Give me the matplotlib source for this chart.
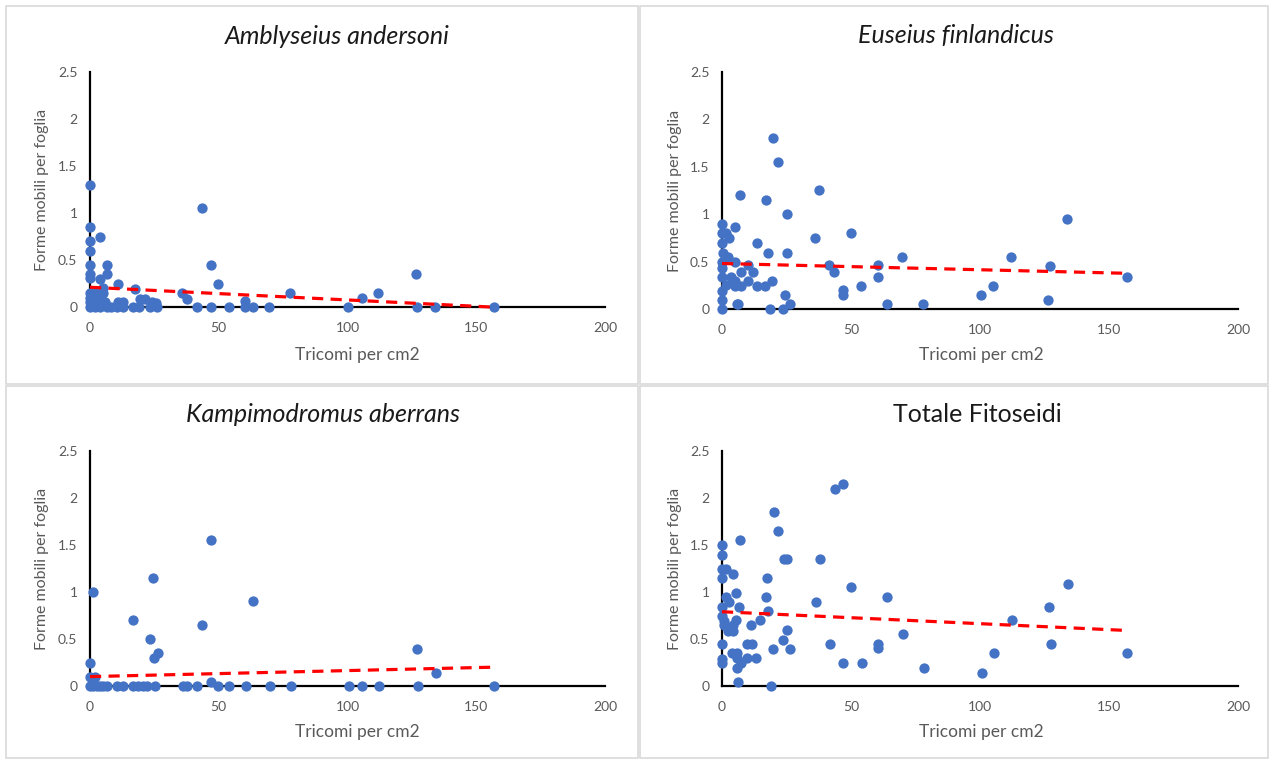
import matplotlib
matplotlib.use("Agg")
import matplotlib.pyplot as plt
from matplotlib.patches import Rectangle
import numpy as np

plt.rcParams['font.family'] = ['Lato', 'DejaVu Sans']

# ---------------- data ----------------
titles = ["Amblyseius andersoni", "Euseius finlandicus",
          "Kampimodromus aberrans", "Totale Fitoseidi"]
title_italic = [True, True, True, False]
xlabel = "Tricomi per cm2"
ylabel = "Forme mobili per foglia"
xticks = [0, 50, 100, 150, 200]
yticks = [0, 0.5, 1, 1.5, 2, 2.5]
ytick_labels = ["0", "0.5", "1", "1.5", "2", "2.5"]

andersoni_x = [0, 0, 0, 0, 0, 0, 0, 0, 0, 0,
               3.9, 6.5, 6.5, 3.9, 43.4, 47, 49.8, 10.7, 17.5, 35.6, 37.5, 77.7, 105.5, 112, 126.6,
               2, 5, 2, 4, 6, 11, 13, 19.4, 21.3, 24, 25.5, 60.2, 5, 1, 3,
               0, 2, 4, 6.5, 8, 10.4, 13, 16.8, 19.1, 23.3, 25.9, 41.4, 47, 54, 60.2, 63.4,
               69.5, 100.3, 127, 134, 157]
andersoni_y = [1.30, 0.85, 0.70, 0.60, 0.45, 0.35, 0.31, 0.15, 0.10, 0.05,
               0.75, 0.45, 0.35, 0.30, 1.05, 0.45, 0.25, 0.25, 0.19, 0.15, 0.09, 0.15, 0.10, 0.15, 0.35,
               0.15, 0.15, 0.10, 0.10, 0.05, 0.05, 0.05, 0.09, 0.09, 0.05, 0.04, 0.06, 0.20, 0.05, 0.12,
               0, 0, 0, 0, 0, 0, 0, 0, 0, 0, 0, 0, 0, 0, 0, 0,
               0, 0, 0, 0, 0]
andersoni_trend = [0.21, -0.00135]   # intercept, slope

finlandicus_x = [19.9, 21.6, 37.6, 7.0, 17.1, 25.1, 0, 5.2, 0, 1.5, 2.8, 0, 13.4, 36.2, 50,
                 69.6, 17.7, 25.2, 0.5, 2.4, 0, 5, 10.2, 41.6, 43.5, 60.3, 60.3, 7.3, 12.1,
                 0, 0, 3.4, 5, 10.2, 19.2, 1.4, 5, 7.2, 13.4, 16.6, 53.9, 0, 0, 46.8, 47,
                 24.4, 5.7, 6.3, 26.4, 63.8, 77.8, 0, 18.6, 23.5,
                 133.6, 112, 127.1, 105.2, 100.4, 126.5, 156.8]
finlandicus_y = [1.80, 1.55, 1.255, 1.20, 1.15, 1.0, 0.90, 0.86, 0.80, 0.80, 0.75, 0.70, 0.70, 0.75, 0.80,
                 0.55, 0.59, 0.59, 0.59, 0.55, 0.50, 0.50, 0.465, 0.465, 0.39, 0.46, 0.34, 0.39, 0.39,
                 0.43, 0.34, 0.34, 0.30, 0.30, 0.30, 0.25, 0.24, 0.24, 0.24, 0.24, 0.245, 0.19, 0.095, 0.20, 0.148,
                 0.148, 0.05, 0.05, 0.05, 0.05, 0.05, 0, 0, 0,
                 0.95, 0.55, 0.45, 0.24, 0.148, 0.095, 0.34]
finlandicus_trend = [0.48, -0.00066]

aberrans_x = [47, 24.3, 1.3, 63.4, 16.8, 43.6, 23.3, 26.3, 24.9, 0, 0, 2, 47,
              126.9, 134.2,
              0, 1.3, 2.6, 3.9, 5.2, 6.5, 10.4, 13, 16.8, 18.8, 20.7, 22, 25.2, 36.2, 37.5,
              41.7, 49.8, 54.1, 60.5, 69.9, 77.9, 100.7, 105.7, 112.2, 127.5, 157]
aberrans_y = [1.55, 1.15, 1.0, 0.90, 0.70, 0.65, 0.50, 0.35, 0.295, 0.25, 0.10, 0.10, 0.046,
              0.39, 0.14,
              0, 0, 0, 0, 0, 0, 0, 0, 0, 0, 0, 0, 0, 0, 0,
              0, 0, 0, 0, 0, 0, 0, 0, 0, 0, 0]
aberrans_trend = [0.10, 0.00064]

totale_x = [47, 43.8, 20.3, 21.8, 7, 0, 0, 24.1, 25.1, 38, 0, 1.5, 4.4, 0, 17.3, 50,
            5.4, 17.1, 63.8, 1.5, 2.8, 0, 6.7, 36.3, 17.7, 0, 0.7, 0.7, 5.3, 14.6,
            4.3, 11.3, 2.5, 4.1, 25.2, 23.5, 70, 0, 9.6, 11.5, 41.9, 60.6, 60.6,
            3.8, 5.7, 19.7, 26.5, 0, 0, 5.7, 7.3, 9.6, 13.3, 5.9, 47, 54.3, 78.3,
            6.3, 18.9,
            134, 126.9, 112.4, 127.5, 105.5, 100.7, 156.8]
totale_y = [2.15, 2.10, 1.85, 1.65, 1.55, 1.50, 1.39, 1.35, 1.35, 1.35, 1.25, 1.25, 1.19, 1.15, 1.15, 1.05,
            0.99, 0.95, 0.95, 0.95, 0.89, 0.84, 0.84, 0.89, 0.80, 0.74, 0.69, 0.65, 0.70, 0.70,
            0.65, 0.65, 0.59, 0.59, 0.60, 0.49, 0.55, 0.45, 0.45, 0.45, 0.45, 0.45, 0.40,
            0.35, 0.35, 0.39, 0.39, 0.29, 0.25, 0.30, 0.25, 0.30, 0.30, 0.19, 0.25, 0.25, 0.195,
            0.04, 0,
            1.09, 0.84, 0.70, 0.45, 0.35, 0.14, 0.35]
totale_trend = [0.79, -0.00127]

series_x = [andersoni_x, finlandicus_x, aberrans_x, totale_x]
series_y = [andersoni_y, finlandicus_y, aberrans_y, totale_y]
trends = [andersoni_trend, finlandicus_trend, aberrans_trend, totale_trend]

# ---------------- layout (pixels) ----------------
W, H = 1270, 760
fig = plt.figure(figsize=(W / 100, H / 100), dpi=100)

def fx(px):
    return px / W

def fy(py):
    return 1 - py / H

# panel boxes (left, top, right, bottom)
boxes = [(6, 6, 638, 384), (640, 6, 1268, 384), (6, 386, 638, 758), (640, 386, 1268, 758)]
for (l, t, r, b) in boxes:
    fig.patches.append(Rectangle((fx(l), fy(b)), fx(r) - fx(l), fy(t) - fy(b),
                                 transform=fig.transFigure, fill=False,
                                 edgecolor='#d9d9d9', linewidth=1.2))

# plot areas (left, top, right, bottom)
areas = [(90, 72, 605, 307), (722, 72, 1238, 309), (90, 451, 605, 686), (722, 451, 1238, 686)]
title_pos = [(337, 36), (956, 36), (323, 414), (977, 414)]
xlab_pos = [(357, 355), (981, 355), (357, 732), (981, 732)]
ylab_x = [42, 675, 42, 675]

txt = '#595959'
for i in range(4):
    l, t, r, b = areas[i]
    ax = fig.add_axes([fx(l), fy(b), fx(r) - fx(l), fy(t) - fy(b)])
    ax.set_xlim(0, 200)
    ax.set_ylim(0, 2.5)
    for s in ['top', 'right']:
        ax.spines[s].set_visible(False)
    for s in ['left', 'bottom']:
        ax.spines[s].set_color('black')
        ax.spines[s].set_linewidth(1.6)
    ax.set_xticks(xticks)
    ax.set_yticks(yticks)
    ax.set_yticklabels(ytick_labels)
    ax.tick_params(axis='both', length=0, labelsize=10, labelcolor=txt)
    ax.tick_params(axis='x', pad=11)
    ax.tick_params(axis='y', pad=9)
    ax.scatter(series_x[i], series_y[i], s=55, color='#4472C4', zorder=5,
               clip_on=False, linewidths=0)
    xs = np.array([min(series_x[i]), max(series_x[i])])
    ax.plot(xs, trends[i][0] + trends[i][1] * xs, color='#FF0000', lw=2.3,
            linestyle=(0, (3.5, 2.3)), zorder=6, clip_on=False)

    fig.text(fx(title_pos[i][0]), fy(title_pos[i][1]), titles[i], ha='center', va='center',
             fontsize=18, color='#1a1a1a', style='italic' if title_italic[i] else 'normal')
    fig.text(fx(xlab_pos[i][0]), fy(xlab_pos[i][1]), xlabel, ha='center', va='center',
             fontsize=12.5, color=txt)
    fig.text(fx(ylab_x[i]), fy((t + b) / 2), ylabel, ha='center', va='center',
             rotation=90, fontsize=11.5, color=txt)

fig.savefig('out.png', dpi=100, facecolor='white')
